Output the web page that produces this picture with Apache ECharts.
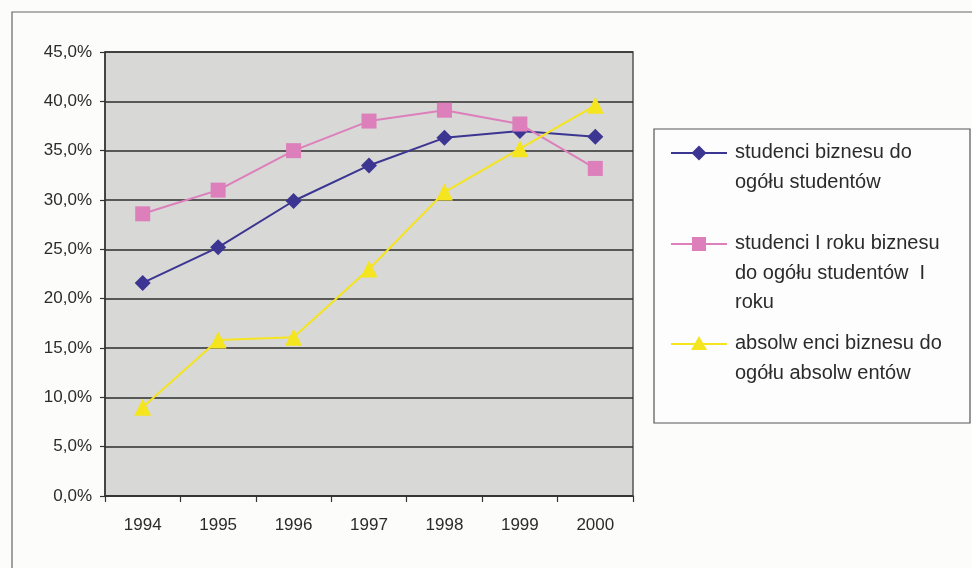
<!DOCTYPE html>
<html>
<head>
<meta charset="utf-8">
<script src="https://cdn.jsdelivr.net/npm/echarts@6/dist/echarts.min.js"></script>
<style>
  html, body { margin: 0; padding: 0; background: #fcfcfb; }
  #chart { width: 972px; height: 568px; }
</style>
</head>
<body>
<div id="chart"></div>
<script>
// Years on the category axis
const years = ['1994', '1995', '1996', '1997', '1998', '1999', '2000'];

// Share of business students (%)
const studentsShare = [21.6, 25.2, 29.9, 33.5, 36.3, 37.0, 36.4];
// Share of first-year business students (%)
const firstYearShare = [28.6, 31.0, 35.0, 38.0, 39.1, 37.7, 33.2];
// Share of business graduates (%)
const graduatesShare = [9.0, 15.8, 16.1, 23.0, 30.8, 35.2, 39.6];

// Legend texts (line breaks as laid out in the legend box)
const legendTexts = [
  'studenci biznesu do\nogółu studentów',
  'studenci I roku biznesu\ndo ogółu studentów  I\nroku',
  'absolw enci biznesu do\nogółu absolw entów'
];
const seriesNames = [
  'studenci biznesu do ogółu studentów',
  'studenci I roku biznesu do ogółu studentów I roku',
  'absolwenci biznesu do ogółu absolwentów'
];

const FONT = '"Liberation Sans", Arial, sans-serif';
const colors = ['#3c3591', '#dc7fbb', '#f4e51e'];

const chart = echarts.init(document.getElementById('chart'), null, { renderer: 'canvas' });

// Legend entries drawn as graphic elements: line + marker + wrapped text
function legendItem(idx, cy) {
  const c = colors[idx];
  const sx = 699;
  let marker;
  if (idx === 0) {
    marker = { type: 'polygon', z: 3, shape: { points: [[sx, cy - 7.5], [sx + 7.5, cy], [sx, cy + 7.5], [sx - 7.5, cy]] }, style: { fill: c } };
  } else if (idx === 1) {
    marker = { type: 'rect', z: 3, shape: { x: sx - 7, y: cy - 7, width: 14, height: 14 }, style: { fill: c } };
  } else {
    marker = { type: 'polygon', z: 3, shape: { points: [[sx, cy - 8], [sx + 8, cy + 6], [sx - 8, cy + 6]] }, style: { fill: c } };
  }
  return [
    { type: 'line', z: 2, shape: { x1: 671, y1: cy, x2: 727, y2: cy }, style: { stroke: c, lineWidth: 2 } },
    marker,
    {
      type: 'text', z: 3, x: 735, y: cy - 15,
      style: { text: legendTexts[idx], font: '20px ' + FONT, fill: '#2b2b2b', lineHeight: 29.5, verticalAlign: 'top', align: 'left' }
    }
  ];
}

const option = {
  backgroundColor: '#fcfcfb',
  animation: false,
  grid: {
    left: 105, right: 339, top: 52, bottom: 72,
    show: true,
    backgroundColor: '#d8d8d6',
    borderColor: '#555',
    borderWidth: 1.5
  },
  xAxis: {
    type: 'category',
    data: years,
    boundaryGap: true,
    axisLine: { show: true, lineStyle: { color: '#333', width: 1.5 } },
    axisTick: { show: true, inside: false, length: 6, lineStyle: { color: '#333', width: 1.2 } },
    axisLabel: { color: '#2b2b2b', fontSize: 17, fontFamily: FONT, margin: 21 },
    splitLine: { show: false }
  },
  yAxis: {
    type: 'value',
    min: 0, max: 45, interval: 5,
    axisLine: { show: true, lineStyle: { color: '#333', width: 1.5 } },
    axisTick: { show: true, inside: false, length: 5, lineStyle: { color: '#333', width: 1.2 } },
    axisLabel: {
      color: '#2b2b2b', fontSize: 17, fontFamily: FONT, margin: 13,
      formatter: v => v.toFixed(1).replace('.', ',') + '%'
    },
    splitLine: { show: true, lineStyle: { color: '#2e2e2e', width: 1.5 } }
  },
  series: [
    {
      name: seriesNames[0], type: 'line', data: studentsShare,
      symbol: 'diamond', symbolSize: 16,
      lineStyle: { color: colors[0], width: 2 },
      itemStyle: { color: colors[0] }, z: 3
    },
    {
      name: seriesNames[1], type: 'line', data: firstYearShare,
      symbol: 'rect', symbolSize: 15,
      lineStyle: { color: colors[1], width: 2 },
      itemStyle: { color: colors[1] }, z: 4
    },
    {
      name: seriesNames[2], type: 'line', data: graduatesShare,
      symbol: 'triangle', symbolSize: 17,
      lineStyle: { color: colors[2], width: 2 },
      itemStyle: { color: colors[2] }, z: 5
    }
  ],
  graphic: [
    // outer chart frame
    { type: 'rect', z: 1, shape: { x: 12, y: 12, width: 1000, height: 620 }, style: { fill: 'none', stroke: '#666', lineWidth: 1.2 } },
    // legend box
    { type: 'rect', z: 1, shape: { x: 654, y: 129, width: 316, height: 294 }, style: { fill: '#fdfdfd', stroke: '#555', lineWidth: 1.2 } },
    ...legendItem(0, 153),
    ...legendItem(1, 244),
    ...legendItem(2, 344)
  ]
};

chart.setOption(option);
</script>
</body>
</html>
